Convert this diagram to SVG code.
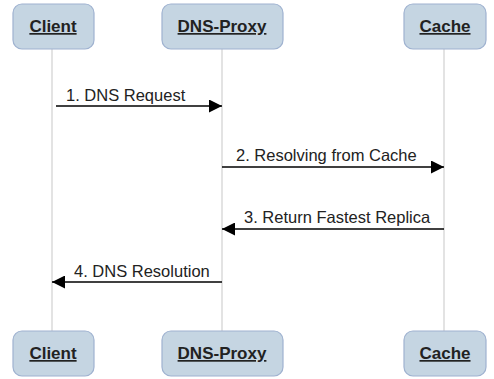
<svg xmlns="http://www.w3.org/2000/svg" width="494" height="379" viewBox="0 0 494 379">
<style>
.box{fill:#c5d5e2;stroke:#9fb2d0;stroke-width:1.2}
.bl{font-family:"Liberation Sans",Arial,sans-serif;font-size:17px;font-weight:bold;text-decoration:underline;fill:#222;text-anchor:middle}
.life{stroke:#d0d0d0;stroke-width:1.2}
.msg{stroke:#000;stroke-width:1.3;fill:none}
.ml{font-family:"Liberation Sans",Arial,sans-serif;font-size:16.5px;fill:#222}
</style>
<defs>
<marker id="ah" viewBox="0 0 10 10" refX="10" refY="5" markerWidth="13" markerHeight="13" markerUnits="userSpaceOnUse" orient="auto">
<path d="M0,0 L10,5 L0,10 Z" fill="#000"/>
</marker>
</defs>
<g id="lifelines">
<line class="life" x1="52" y1="49" x2="52" y2="331"/>
<line class="life" x1="222" y1="49" x2="222" y2="331"/>
<line class="life" x1="444" y1="49" x2="444" y2="331"/>
</g>
<g id="client-top"><rect class="box" x="13" y="4" width="81" height="45" rx="9"/><text class="bl" x="53" y="32">Client</text></g>
<g id="proxy-top"><rect class="box" x="162" y="4" width="121" height="45" rx="9"/><text class="bl" x="222" y="32">DNS-Proxy</text></g>
<g id="cache-top"><rect class="box" x="404" y="4" width="82" height="45" rx="9"/><text class="bl" x="445" y="32">Cache</text></g>
<g id="client-bottom"><rect class="box" x="13" y="331" width="81" height="45" rx="9"/><text class="bl" x="53" y="359">Client</text></g>
<g id="proxy-bottom"><rect class="box" x="162" y="331" width="121" height="45" rx="9"/><text class="bl" x="222" y="359">DNS-Proxy</text></g>
<g id="cache-bottom"><rect class="box" x="404" y="331" width="82" height="45" rx="9"/><text class="bl" x="445" y="359">Cache</text></g>
<g id="connectors">
<line class="msg" x1="56" y1="106" x2="222" y2="106" marker-end="url(#ah)"/>
<line class="msg" x1="222" y1="167" x2="444" y2="167" marker-end="url(#ah)"/>
<line class="msg" x1="444" y1="229" x2="222" y2="229" marker-end="url(#ah)"/>
<line class="msg" x1="222" y1="282" x2="52" y2="282" marker-end="url(#ah)"/>
<text class="ml" x="66" y="101">1. DNS Request</text>
<text class="ml" x="236" y="161">2. Resolving from Cache</text>
<text class="ml" x="244" y="223">3. Return Fastest Replica</text>
<text class="ml" x="74" y="277">4. DNS Resolution</text>
</g>
</svg>
